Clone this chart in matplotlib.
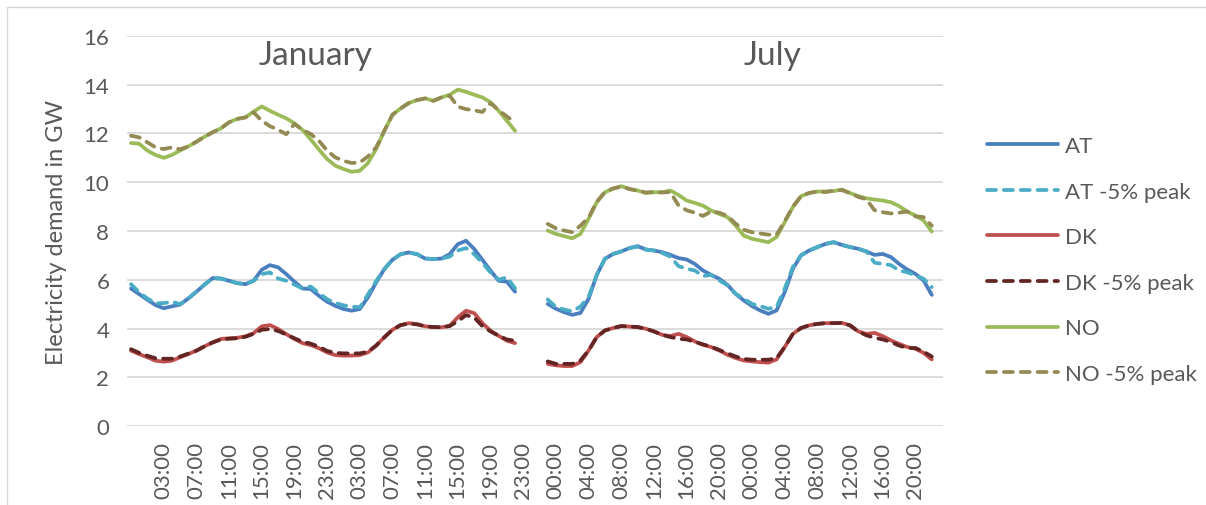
import numpy as np
import matplotlib.pyplot as plt
from matplotlib import transforms
from matplotlib.patches import Rectangle

plt.rcParams['font.family'] = ['Lato', 'DejaVu Sans']

# --- data (GW, hourly, two days per month) ---
at_jan = [5.64, 5.41, 5.18, 4.96, 4.83, 4.91, 4.98, 5.23, 5.51, 5.80, 6.07, 6.05, 5.96, 5.86, 5.82, 5.96,
          6.41, 6.60, 6.51, 6.23, 5.92, 5.64, 5.62, 5.34, 5.10, 4.93, 4.80, 4.73, 4.80, 5.28, 5.89, 6.44,
          6.82, 7.05, 7.12, 7.05, 6.87, 6.85, 6.87, 7.05, 7.46, 7.60, 7.26, 6.82, 6.37, 5.96, 5.92, 5.51]
at5_jan = [5.82, 5.48, 5.23, 5.04, 5.04, 5.10, 5.00, 5.23, 5.51, 5.80, 6.07, 6.05, 5.96, 5.86, 5.82, 5.96,
           6.23, 6.30, 6.05, 5.96, 5.80, 5.64, 5.72, 5.45, 5.20, 5.05, 4.95, 4.90, 4.87, 5.40, 5.95, 6.44,
           6.82, 7.05, 7.12, 7.05, 6.87, 6.85, 6.87, 6.95, 7.20, 7.30, 7.05, 6.70, 6.30, 6.00, 6.10, 5.65]
dk_jan = [3.09, 2.95, 2.82, 2.68, 2.64, 2.68, 2.82, 2.95, 3.09, 3.27, 3.43, 3.57, 3.60, 3.62, 3.68, 3.81,
          4.09, 4.14, 3.98, 3.77, 3.57, 3.40, 3.32, 3.19, 3.02, 2.91, 2.89, 2.89, 2.91, 3.02, 3.30, 3.64,
          3.95, 4.14, 4.22, 4.18, 4.09, 4.06, 4.05, 4.11, 4.46, 4.73, 4.63, 4.22, 3.91, 3.70, 3.50, 3.40]
dk5_jan = [3.15, 3.00, 2.88, 2.78, 2.76, 2.76, 2.85, 2.97, 3.09, 3.27, 3.43, 3.55, 3.58, 3.60, 3.66, 3.78,
           3.95, 3.98, 3.90, 3.75, 3.60, 3.45, 3.38, 3.25, 3.08, 3.00, 2.98, 2.98, 2.98, 3.05, 3.30, 3.64,
           3.95, 4.14, 4.20, 4.17, 4.09, 4.06, 4.05, 4.10, 4.30, 4.55, 4.45, 4.10, 3.88, 3.70, 3.55, 3.50]
no_jan = [11.61, 11.58, 11.30, 11.12, 11.00, 11.12, 11.30, 11.47, 11.66, 11.87, 12.05, 12.21, 12.46, 12.60,
          12.66, 12.90, 13.11, 12.93, 12.77, 12.62, 12.42, 12.14, 11.75, 11.34, 10.95, 10.68, 10.54, 10.43,
          10.47, 10.79, 11.36, 12.11, 12.77, 13.03, 13.25, 13.37, 13.44, 13.34, 13.48, 13.59, 13.80, 13.71,
          13.59, 13.48, 13.28, 12.93, 12.52, 12.11]
no5_jan = [11.91, 11.84, 11.64, 11.43, 11.36, 11.43, 11.35, 11.47, 11.66, 11.87, 12.05, 12.21, 12.46, 12.60,
           12.66, 12.87, 12.52, 12.30, 12.15, 11.97, 12.39, 12.15, 11.98, 11.70, 11.30, 11.02, 10.88, 10.79,
           10.81, 11.06, 11.43, 12.11, 12.77, 13.03, 13.25, 13.37, 13.44, 13.34, 13.48, 13.55, 13.10, 13.00,
           12.95, 12.88, 13.25, 12.95, 12.70, 12.45]

at_jul = [5.01, 4.81, 4.67, 4.56, 4.64, 5.22, 6.20, 6.86, 7.06, 7.16, 7.30, 7.38, 7.24, 7.20, 7.13, 7.02,
          6.89, 6.83, 6.65, 6.38, 6.20, 6.04, 5.79, 5.42, 5.15, 4.92, 4.74, 4.60, 4.74, 5.49, 6.45, 7.00,
          7.20, 7.34, 7.47, 7.54, 7.43, 7.34, 7.27, 7.16, 7.02, 7.06, 6.93, 6.65, 6.42, 6.24, 5.97, 5.38]
at5_jul = [5.19, 4.88, 4.78, 4.70, 4.90, 5.30, 6.20, 6.86, 7.06, 7.16, 7.30, 7.36, 7.24, 7.20, 7.10, 6.95,
           6.56, 6.45, 6.38, 6.15, 6.20, 5.97, 5.77, 5.42, 5.22, 5.01, 4.92, 4.81, 4.88, 5.63, 6.52, 7.00,
           7.20, 7.34, 7.47, 7.54, 7.43, 7.34, 7.27, 7.16, 6.70, 6.65, 6.60, 6.38, 6.31, 6.17, 6.04, 5.70]
dk_jul = [2.55, 2.49, 2.46, 2.46, 2.62, 3.10, 3.65, 3.92, 4.02, 4.10, 4.08, 4.06, 3.99, 3.88, 3.74, 3.69,
          3.78, 3.65, 3.47, 3.33, 3.24, 3.10, 2.92, 2.79, 2.69, 2.65, 2.62, 2.60, 2.73, 3.24, 3.78, 4.02,
          4.13, 4.19, 4.22, 4.22, 4.23, 4.13, 3.88, 3.78, 3.82, 3.69, 3.51, 3.37, 3.24, 3.17, 3.00, 2.73]
dk5_jul = [2.65, 2.55, 2.55, 2.55, 2.69, 3.10, 3.65, 3.92, 4.02, 4.10, 4.08, 4.06, 3.99, 3.88, 3.74, 3.65,
           3.58, 3.55, 3.45, 3.35, 3.25, 3.12, 2.98, 2.85, 2.75, 2.72, 2.72, 2.72, 2.78, 3.24, 3.78, 4.02,
           4.13, 4.19, 4.22, 4.22, 4.23, 4.13, 3.88, 3.72, 3.62, 3.55, 3.45, 3.30, 3.20, 3.20, 3.05, 2.85]
no_jul = [8.02, 7.88, 7.79, 7.70, 7.88, 8.50, 9.18, 9.59, 9.73, 9.84, 9.73, 9.66, 9.56, 9.59, 9.59, 9.66,
          9.48, 9.25, 9.15, 9.04, 8.84, 8.70, 8.57, 8.22, 7.81, 7.68, 7.61, 7.54, 7.75, 8.36, 8.98, 9.43,
          9.56, 9.62, 9.62, 9.64, 9.70, 9.56, 9.43, 9.34, 9.29, 9.25, 9.18, 9.02, 8.80, 8.63, 8.43, 7.98]
no5_jul = [8.29, 8.11, 8.02, 7.95, 8.22, 8.55, 9.20, 9.60, 9.75, 9.82, 9.72, 9.65, 9.58, 9.60, 9.58, 9.60,
           9.05, 8.85, 8.75, 8.62, 8.80, 8.75, 8.62, 8.30, 8.05, 7.95, 7.90, 7.85, 7.85, 8.40, 9.00, 9.43,
           9.56, 9.62, 9.60, 9.65, 9.68, 9.55, 9.40, 9.30, 8.85, 8.77, 8.72, 8.75, 8.80, 8.60, 8.57, 8.22]

series_names = ['AT', 'AT -5% peak', 'DK', 'DK -5% peak', 'NO', 'NO -5% peak']
jan_series = [at_jan, at5_jan, dk_jan, dk5_jan, no_jan, no5_jan]
jul_series = [at_jul, at5_jul, dk_jul, dk5_jul, no_jul, no5_jul]
colors = ['#4a7ebf', '#4bacc6', '#c0504d', '#632523', '#9bbb59', '#948a54']
dashed = [False, True, False, True, False, True]

jan_labels = ['03:00', '07:00', '11:00', '15:00', '19:00', '23:00'] * 2
jul_labels = ['00:00', '04:00', '08:00', '12:00', '16:00', '20:00'] * 2
gap = 3  # empty categories between the two months

# category axis: Jan hours, blank gap, Jul hours
n_jan = len(at_jan)
jul_start = n_jan + gap
x = np.arange(n_jan + gap + len(at_jul))

fig = plt.figure(figsize=(12.06, 5.06), dpi=100)
ax = fig.add_axes([0.1056, 0.1561, 0.6765, 0.7708])

for name, jan, jul, c, d in zip(series_names, jan_series, jul_series, colors, dashed):
    y = np.array(jan + [np.nan] * gap + jul)
    if d:
        ax.plot(x, y, color=c, lw=2.7, label=name, dashes=(2.4, 2.1),
                dash_capstyle='round', solid_capstyle='round')
    else:
        ax.plot(x, y, color=c, lw=2.7, label=name, solid_capstyle='round')

ax.set_xlim(-0.45, 99.4)
ax.set_ylim(0, 16)
ax.set_yticks(range(0, 17, 2))

tick_pos = list(range(3, n_jan, 4)) + list(range(jul_start, len(x), 4))
ax.set_xticks(tick_pos)
ax.set_xticklabels(jan_labels + jul_labels, rotation=90)
ax.tick_params(axis='both', length=0, labelsize=16, colors='#595959')
ax.tick_params(axis='x', pad=11)
ax.tick_params(axis='y', pad=13)
shift = transforms.ScaledTranslation(8 / 100, 0, fig.dpi_scale_trans)
for lab in ax.get_xticklabels():
    lab.set_transform(lab.get_transform() + shift)

ax.grid(axis='y', color='#d9d9d9', lw=1.3)
ax.set_axisbelow(True)
for s in ax.spines.values():
    s.set_visible(False)

ax.set_ylabel('Electricity demand in GW', fontsize=17, color='#595959', labelpad=12)

ax.text(22.6, 14.85, 'January', fontsize=24, color='#595959', ha='center', va='baseline')
ax.text(78.5, 14.85, 'July', fontsize=24, color='#595959', ha='center', va='baseline')

leg = ax.legend(loc='center left', bbox_to_anchor=(987 / 1206, 1 - 261 / 506),
                bbox_transform=fig.transFigure, frameon=False, fontsize=16,
                handlelength=3.2, handletextpad=0.3, labelspacing=1.15,
                borderpad=0, borderaxespad=0)
for t in leg.get_texts():
    t.set_color('#595959')

fig.add_artist(Rectangle((7 / 1206, -0.1), 2, 1.1 - 8 / 506, transform=fig.transFigure,
                         fill=False, ec='#d9d9d9', lw=1))

fig.savefig('out.png', dpi=100)
